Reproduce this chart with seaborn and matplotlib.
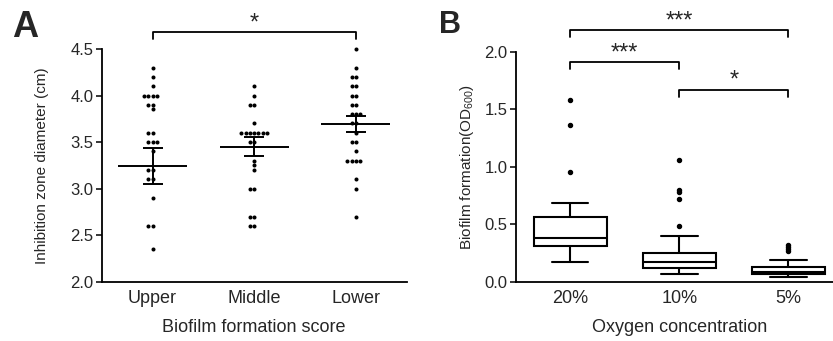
import matplotlib
matplotlib.use("Agg")
import matplotlib.pyplot as plt
import pandas as pd
import seaborn as sns

# Panel A - inhibition zone diameter (cm) per biofilm formation score
score_groups = ["Upper", "Middle", "Lower"]
upper_zone = [4.3, 4.2, 4.1, 4.0, 4.0, 4.0, 4.0, 3.9, 3.9, 3.85, 3.6, 3.6,
              3.5, 3.5, 3.5, 3.4, 3.2, 3.2, 3.1, 3.1, 2.9, 2.6, 2.6, 2.35]
middle_zone = [4.1, 4.0, 3.9, 3.9, 3.7, 3.6, 3.6, 3.6, 3.6, 3.6, 3.6, 3.6,
               3.5, 3.5, 3.3, 3.25, 3.2, 3.0, 3.0, 2.7, 2.7, 2.6, 2.6]
lower_zone = [4.5, 4.3, 4.2, 4.2, 4.1, 4.1, 4.0, 4.0, 3.9, 3.9, 3.8, 3.8, 3.8,
              3.7, 3.7, 3.6, 3.5, 3.5, 3.4, 3.3, 3.3, 3.3, 3.3, 3.1, 3.0, 2.7]
zone_means = [3.24, 3.45, 3.69]
zone_sems = [0.195, 0.10, 0.085]

# Panel B - biofilm formation (OD600) per oxygen concentration
oxygen_levels = ["20%", "10%", "5%"]
biofilm_20 = [0.17, 0.22, 0.26, 0.28, 0.29, 0.30, 0.30, 0.31, 0.34, 0.35, 0.36, 0.37, 0.37, 0.38,
              0.38, 0.40, 0.42, 0.45, 0.49, 0.53, 0.56, 0.56, 0.58, 0.62, 0.68, 0.95, 1.36, 1.58]
biofilm_10 = [0.07, 0.08, 0.09, 0.10, 0.10, 0.11, 0.11, 0.11, 0.12, 0.13, 0.14, 0.15, 0.16, 0.16,
              0.16, 0.17, 0.18, 0.19, 0.20, 0.22, 0.24, 0.25, 0.25, 0.25, 0.31, 0.40, 0.48, 0.72,
              0.78, 0.80, 1.06]
biofilm_5 = [0.04, 0.05, 0.05, 0.05, 0.06, 0.06, 0.06, 0.06, 0.07, 0.07, 0.07, 0.07, 0.08, 0.08,
             0.08, 0.08, 0.09, 0.09, 0.10, 0.10, 0.11, 0.12, 0.13, 0.13, 0.14, 0.16, 0.19, 0.27,
             0.28, 0.30, 0.32]

sns.set_style("ticks")
plt.rcParams["font.family"] = ["Liberation Sans", "DejaVu Sans"]
plt.rcParams["mathtext.fontset"] = "custom"
plt.rcParams["mathtext.rm"] = "Liberation Sans"
plt.rcParams["axes.linewidth"] = 1.3

df_zone = pd.DataFrame({
    "grupo": ["Upper"] * len(upper_zone) + ["Middle"] * len(middle_zone) + ["Lower"] * len(lower_zone),
    "valor": upper_zone + middle_zone + lower_zone,
})
df_bio = pd.DataFrame({
    "grupo": ["20%"] * len(biofilm_20) + ["10%"] * len(biofilm_10) + ["5%"] * len(biofilm_5),
    "valor": biofilm_20 + biofilm_10 + biofilm_5,
})

fig = plt.figure(figsize=(8.33, 3.41), dpi=100)
ax1 = fig.add_axes([0.1221, 0.174, 0.366, 0.6824])
ax2 = fig.add_axes([0.619, 0.174, 0.393, 0.6745])

# painel A
sns.swarmplot(data=df_zone, x="grupo", y="valor", order=score_groups, color="black",
              size=2.9, ax=ax1)
for col in ax1.collections:
    col.set_clip_on(False)
xs = list(range(len(score_groups)))
ax1.hlines(zone_means, [x - 0.34 for x in xs], [x + 0.34 for x in xs], color="black", lw=1.4, zorder=4)
ax1.errorbar(xs, zone_means, yerr=zone_sems, fmt="none", ecolor="black", elinewidth=1.4,
             capsize=7, capthick=1.4, zorder=4)
ax1.set_ylim(2.0, 4.5)
ax1.set_yticks([2.0, 2.5, 3.0, 3.5, 4.0, 4.5])
ax1.set_xlim(-0.5, 2.5)
ax1.set_ylabel("Inhibition zone diameter (cm)", fontsize=11, labelpad=15)
ax1.set_xlabel("Biofilm formation score", fontsize=13, labelpad=9)

# colchete de significância
ax1.plot([0, 0, 2, 2], [4.61, 4.68, 4.68, 4.61], color="black", lw=1.3, clip_on=False)
ax1.text(1, 4.66, "*", ha="center", va="bottom", fontsize=17)

# painel B
sns.boxplot(data=df_bio, x="grupo", y="valor", order=oxygen_levels, color="white",
            linecolor="black", linewidth=1.5, width=0.67, whis=1.5, fliersize=2.9,
            flierprops={"marker": "o", "markerfacecolor": "black", "markeredgecolor": "black"},
            ax=ax2)
ax2.set_ylim(0, 2.0)
ax2.set_yticks([0.0, 0.5, 1.0, 1.5, 2.0])
ax2.set_xlim(-0.5, 2.5)
ax2.set_ylabel("Biofilm formation(OD$_{600}$)", fontsize=11, labelpad=6)
ax2.set_xlabel("Oxygen concentration", fontsize=13, labelpad=9)

for x0, x1, y, marca in [(0, 2, 2.19, "***"), (0, 1, 1.91, "***"), (1, 2, 1.67, "*")]:
    ax2.plot([x0, x0, x1, x1], [y - 0.065, y, y, y - 0.065], color="black", lw=1.3, clip_on=False)
    ax2.text((x0 + x1) / 2, y - 0.02, marca, ha="center", va="bottom", fontsize=17)

for ax in (ax1, ax2):
    sns.despine(ax=ax)
    ax.tick_params(axis="y", labelsize=12, length=4, width=1.3, pad=2)
    ax.tick_params(axis="x", labelsize=13, length=0, pad=6)
    ax.spines["left"].set_color("black")
    ax.spines["bottom"].set_color("black")

fig.text(0.014, 0.97, "A", fontsize=26, fontweight="bold", va="top", ha="left")
fig.text(0.527, 0.97, "B", fontsize=22, fontweight="bold", va="top", ha="left")

fig.savefig("out.png", dpi=100)
